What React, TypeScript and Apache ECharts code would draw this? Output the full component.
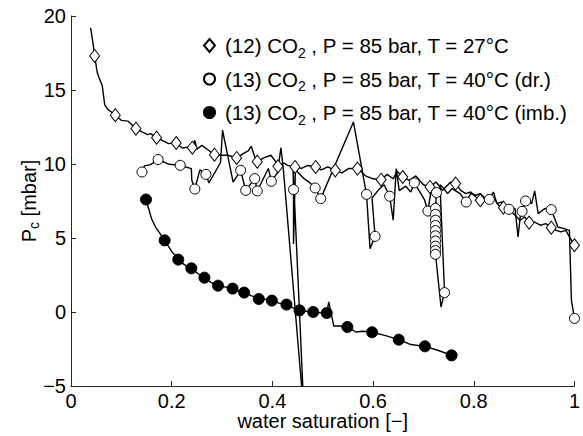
import React, { useEffect, useRef } from "react";
import * as echarts from "echarts";

// Water saturation [-] vs capillary pressure Pc [mbar]
// (12) CO2, P = 85 bar, T = 27°C  — full measured curve
const co2T27Line: [number, number][] = [
  [0.039, 19.2], [0.044, 18.1], [0.047, 17.3], [0.052, 16.2], [0.055, 15.9], [0.062, 15.3],
  [0.067, 14.0], [0.073, 13.7], [0.088, 13.3], [0.1, 12.95], [0.113, 12.9], [0.129, 12.39],
  [0.142, 12.16], [0.152, 11.99], [0.158, 12.05], [0.17, 11.78], [0.181, 11.6], [0.194, 11.38],
  [0.209, 11.42], [0.221, 11.08], [0.234, 11.15], [0.241, 11.1], [0.246, 11.6], [0.25, 11.0],
  [0.26, 11.26], [0.273, 10.93], [0.285, 10.63], [0.299, 10.59], [0.312, 10.59], [0.329, 10.41],
  [0.342, 10.7], [0.352, 10.88], [0.358, 11.2], [0.365, 10.47], [0.37, 10.16], [0.384, 10.43],
  [0.397, 10.59], [0.407, 10.14], [0.411, 9.84], [0.423, 10.07], [0.43, 9.91], [0.445, 9.8],
  [0.458, 9.7], [0.47, 9.9], [0.486, 9.8], [0.497, 9.6], [0.51, 9.8], [0.525, 9.57],
  [0.538, 9.4], [0.552, 9.7], [0.569, 9.69], [0.585, 9.2], [0.6, 9.0], [0.616, 8.94],
  [0.628, 9.3], [0.64, 9.0], [0.648, 9.5], [0.659, 9.12], [0.672, 8.9], [0.685, 9.2],
  [0.7, 8.6], [0.713, 8.45], [0.725, 8.78], [0.738, 8.22], [0.748, 8.56], [0.754, 8.78],
  [0.764, 8.68], [0.774, 8.22], [0.784, 8.0], [0.794, 8.11], [0.804, 7.77], [0.813, 7.55],
  [0.823, 7.77], [0.833, 7.89], [0.843, 7.55], [0.849, 7.21], [0.859, 7.05], [0.869, 6.99],
  [0.882, 6.53], [0.892, 6.2], [0.901, 6.42], [0.91, 6.04], [0.921, 6.08], [0.933, 5.86],
  [0.943, 5.97], [0.954, 5.7], [0.964, 5.52], [0.973, 5.41], [0.983, 5.52], [0.99, 5.07],
  [1.0, 4.51],
];
const co2T27Markers: [number, number][] = [
  [0.047, 17.3], [0.088, 13.3], [0.129, 12.39], [0.17, 11.78], [0.209, 11.42], [0.241, 11.1],
  [0.285, 10.63], [0.329, 10.41], [0.37, 10.16], [0.411, 9.84], [0.445, 9.8], [0.486, 9.8],
  [0.525, 9.57], [0.569, 9.69], [0.616, 8.94], [0.659, 9.12], [0.713, 8.45], [0.764, 8.68],
  [0.813, 7.55], [0.859, 7.05], [0.91, 6.04], [0.954, 5.7], [1.0, 4.51],
];

// (13) CO2, P = 85 bar, T = 40°C (drainage)
const co2T40DrLine: [number, number][] = [
  [0.141, 9.46], [0.146, 9.87], [0.158, 9.96], [0.173, 10.3], [0.195, 9.98], [0.217, 9.91],
  [0.239, 9.69], [0.24, 8.9], [0.246, 8.31], [0.256, 9.6], [0.268, 9.3], [0.274, 8.72],
  [0.297, 10.1], [0.301, 12.28], [0.322, 8.78], [0.337, 9.57], [0.347, 8.22], [0.365, 9.01],
  [0.37, 8.18], [0.392, 9.7], [0.398, 8.83], [0.41, 9.4], [0.417, 11.1], [0.422, 9.56],
  [0.463, -7], [0.441, 9.8], [0.442, 8.27], [0.442, 4.6], [0.446, 9.9], [0.45, 9.46],
  [0.463, 9.01], [0.473, 8.78], [0.485, 8.38], [0.496, 7.66], [0.561, 12.84], [0.587, 7.95],
  [0.594, 4.28], [0.604, 5.11], [0.598, 7.7], [0.612, 8.3], [0.622, 8.6], [0.633, 7.82],
  [0.64, 6.2], [0.646, 9.69], [0.652, 8.2], [0.665, 8.5], [0.675, 8.1], [0.682, 8.72],
  [0.695, 8.0], [0.702, 7.6], [0.709, 6.82], [0.717, 8.6], [0.726, 8.07], [0.724, 7.0],
  [0.724, 3.9], [0.735, 0.34], [0.742, 1.31], [0.733, 8.6], [0.738, 8.45], [0.748, 8.0],
  [0.757, 8.34], [0.773, 8.0], [0.785, 7.43], [0.794, 8.0], [0.804, 7.89], [0.813, 8.0],
  [0.823, 7.66], [0.831, 7.61], [0.839, 8.11], [0.846, 7.32], [0.856, 7.43], [0.862, 7.09],
  [0.87, 6.94], [0.882, 6.99], [0.888, 5.07], [0.893, 6.65], [0.896, 6.8], [0.903, 7.5],
  [0.915, 7.32], [0.921, 8.18], [0.928, 6.65], [0.941, 6.99], [0.954, 6.92], [0.967, 5.74],
  [0.98, 5.63], [0.99, 5.52], [0.994, 0.79], [1.0, -0.43],
];
const co2T40DrMarkers: [number, number][] = [
  [0.141, 9.46], [0.173, 10.3], [0.217, 9.91], [0.246, 8.31], [0.268, 9.3], [0.337, 9.57],
  [0.347, 8.22], [0.365, 9.01], [0.37, 8.18], [0.398, 8.83], [0.442, 8.27], [0.485, 8.38],
  [0.496, 7.66], [0.587, 7.95], [0.604, 5.11], [0.633, 7.82], [0.682, 8.72], [0.709, 6.82],
  [0.726, 8.07], [0.724, 7.0], [0.724, 6.6], [0.724, 6.2], [0.724, 5.85], [0.724, 5.5],
  [0.724, 5.15], [0.724, 4.8], [0.724, 4.45], [0.724, 4.15], [0.724, 3.9], [0.742, 1.31],
  [0.785, 7.43], [0.831, 7.61], [0.87, 6.94], [0.896, 6.8], [0.903, 7.5], [0.954, 6.92],
  [1.0, -0.43],
];

// (13) CO2, P = 85 bar, T = 40°C (imbibition)
const co2T40ImbLine: [number, number][] = [
  [0.149, 7.6], [0.16, 6.3], [0.168, 5.74], [0.186, 4.84], [0.2, 4.1], [0.213, 3.54],
  [0.225, 3.2], [0.239, 2.95], [0.252, 2.6], [0.265, 2.32], [0.278, 2.0], [0.292, 1.78],
  [0.305, 1.7], [0.321, 1.58], [0.333, 1.4], [0.344, 1.31], [0.358, 1.1], [0.373, 0.88],
  [0.386, 0.85], [0.399, 0.77], [0.413, 0.6], [0.428, 0.5], [0.44, 0.3], [0.454, 0.11],
  [0.468, 0.05], [0.481, 0.0], [0.495, -0.05], [0.508, -0.07], [0.512, 0.68], [0.522, -0.95],
  [0.535, -0.95], [0.549, -1.01], [0.566, -1.35], [0.58, -1.3], [0.598, -1.37], [0.625, -1.6],
  [0.651, -1.87], [0.675, -2.2], [0.703, -2.32], [0.73, -2.6], [0.756, -2.93],
];
const co2T40ImbMarkers: [number, number][] = [
  [0.149, 7.6], [0.186, 4.84], [0.213, 3.54], [0.239, 2.95], [0.265, 2.32], [0.292, 1.78],
  [0.321, 1.58], [0.344, 1.31], [0.373, 0.88], [0.399, 0.77], [0.428, 0.5], [0.454, 0.11],
  [0.481, 0.0], [0.508, -0.07], [0.549, -1.01], [0.598, -1.37], [0.651, -1.87], [0.703, -2.32],
  [0.756, -2.93],
];

const seriesNames = [
  "(12) CO2 , P = 85 bar, T = 27°C",
  "(13) CO2 , P = 85 bar, T = 40°C (dr.)",
  "(13) CO2 , P = 85 bar, T = 40°C (imb.)",
];
const legendRich = [
  "{f|(12) CO}{sub|2}{m| , P = 85 bar, T = 27°C}",
  "{f|(13) CO}{sub|2}{m| , P = 85 bar, T = 40°C (dr.)}",
  "{f|(13) CO}{sub|2}{m| , P = 85 bar, T = 40°C (imb.)}",
];

const FONT = "'Liberation Sans', Arial, Helvetica, sans-serif";
const AXIS_COLOR = "#262626";
const FS = 20;
const LFS = 20.5;

export default function App() {
  const ref = useRef<HTMLDivElement>(null);

  useEffect(() => {
    if (!ref.current) return;
    const chart = echarts.init(ref.current, null, { renderer: "svg" });

    const lineSeries = (data: [number, number][]) => ({
      type: "line",
      data,
      symbol: "none",
      silent: true,
      lineStyle: { color: "#000", width: 1.4 },
      emphasis: { disabled: true },
      clip: true,
      z: 2,
    });

    const option: any = {
      animation: false,
      backgroundColor: "#fff",
      textStyle: { fontFamily: FONT },
      grid: { left: 71, right: 3, top: 16, bottom: 50, containLabel: false },
      legend: {
        orient: "vertical",
        left: 198,
        top: 30,
        padding: 5,
        itemGap: 9,
        itemWidth: 11,
        itemHeight: 13,
        data: seriesNames,
        selectedMode: false,
        formatter: (name: string) => legendRich[seriesNames.indexOf(name)],
        textStyle: {
          fontFamily: FONT,
          color: "#000",
          rich: {
            f: { fontSize: LFS, lineHeight: 28, fontFamily: FONT, color: "#000", padding: [0, 0, 0, 5] },
            m: { fontSize: LFS, lineHeight: 28, fontFamily: FONT, color: "#000" },
            sub: { fontSize: 14, lineHeight: 8, verticalAlign: "bottom", fontFamily: FONT, color: "#000" },
          },
        },
      },
      xAxis: {
        type: "value",
        min: 0,
        max: 1,
        interval: 0.2,
        name: "water saturation [\u2212]",
        nameLocation: "middle",
        nameGap: 26,
        nameMoveOverlap: false,
        nameTextStyle: { fontSize: FS, lineHeight: 18, color: "#000", fontFamily: FONT, verticalAlign: "top" },
        axisLine: { show: true, onZero: false, lineStyle: { color: AXIS_COLOR, width: 1 } },
        axisTick: { show: true, inside: true, length: 5, lineStyle: { color: AXIS_COLOR } },
        axisLabel: {
          fontSize: FS,
          lineHeight: 18,
          color: "#000",
          margin: 6,
          fontFamily: FONT,
          formatter: (v: number) => String(Math.round(v * 10) / 10),
        },
        splitLine: { show: false },
      },
      yAxis: {
        type: "value",
        min: -5,
        max: 20,
        interval: 5,
        name: "{m|P}{sub|c}{m| [mbar]}",
        nameLocation: "middle",
        nameRotate: 90,
        nameGap: 30,
        nameMoveOverlap: false,
        nameTextStyle: {
          fontFamily: FONT,
          color: "#000",
          rich: {
            m: { fontSize: FS, lineHeight: 24, fontFamily: FONT, color: "#000" },
            sub: { fontSize: 14, lineHeight: 8, verticalAlign: "bottom", fontFamily: FONT, color: "#000" },
          },
        },
        axisLine: { show: true, onZero: false, lineStyle: { color: AXIS_COLOR, width: 1 } },
        axisTick: { show: true, inside: true, length: 5, lineStyle: { color: AXIS_COLOR } },
        axisLabel: {
          fontSize: FS,
          color: "#000",
          margin: 5,
          fontFamily: FONT,
          formatter: (v: number) => (v < 0 ? "\u2212" + Math.abs(v) : String(v)),
        },
        splitLine: { show: false },
      },
      series: [
        lineSeries(co2T27Line),
        {
          type: "scatter",
          name: seriesNames[0],
          data: co2T27Markers,
          symbol: "diamond",
          symbolSize: [10, 13],
          itemStyle: { color: "#fff", borderColor: "#000", borderWidth: 1, opacity: 1 },
          emphasis: { disabled: true },
          z: 3,
        },
        lineSeries(co2T40DrLine),
        {
          type: "scatter",
          name: seriesNames[1],
          data: co2T40DrMarkers,
          symbol: "circle",
          symbolSize: 10,
          itemStyle: { color: "#fff", borderColor: "#000", borderWidth: 1, opacity: 1 },
          emphasis: { disabled: true },
          z: 3,
        },
        lineSeries(co2T40ImbLine),
        {
          type: "scatter",
          name: seriesNames[2],
          data: co2T40ImbMarkers,
          symbol: "circle",
          symbolSize: 11,
          itemStyle: { color: "#000", borderColor: "#000", borderWidth: 1, opacity: 1 },
          emphasis: { disabled: true },
          z: 3,
        },
      ],
    };

    chart.setOption(option);
    return () => {
      chart.dispose();
    };
  }, []);

  return (
    <div
      ref={ref}
      style={{ position: "fixed", left: 0, top: 0, width: 583, height: 436, background: "#fff" }}
    />
  );
}
